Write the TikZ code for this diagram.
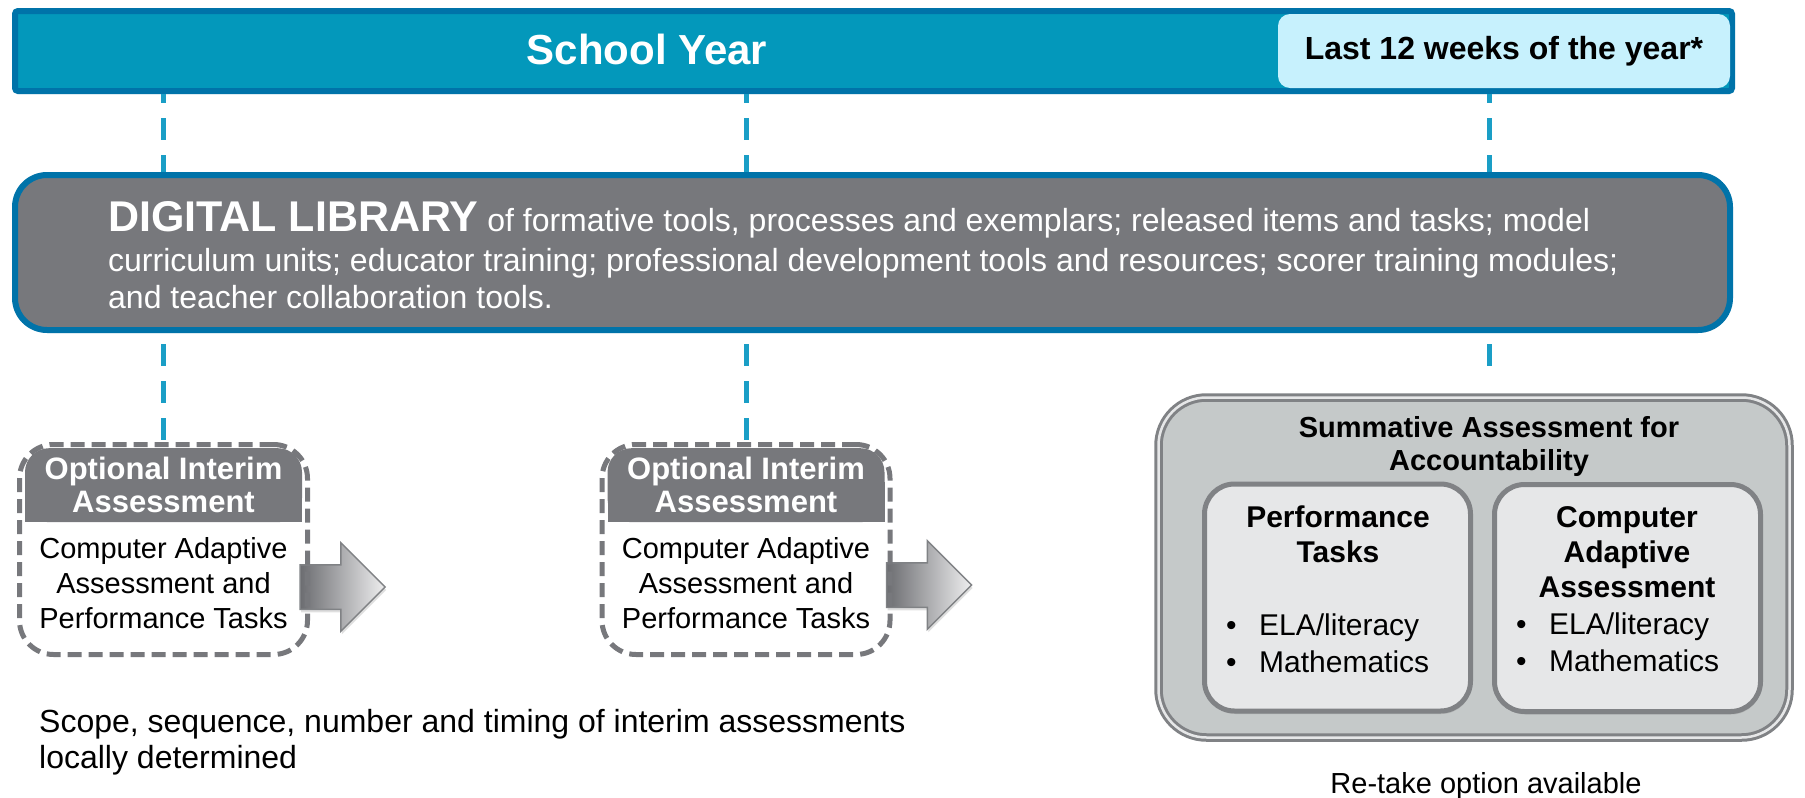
\documentclass[tikz,border=0pt]{standalone}
\usepackage{fontspec}
\setmainfont{Liberation Sans}
\usetikzlibrary{positioning,shapes.arrows,shadows}

\definecolor{barblue}{HTML}{0398BB}
\definecolor{barline}{HTML}{0073A9}
\definecolor{lastcyan}{HTML}{C7F1FD}
\definecolor{libgray}{HTML}{77787C}
\definecolor{tickblue}{HTML}{1A9EC6}
\definecolor{sumfill}{HTML}{C5C9C9}
\definecolor{subfill}{HTML}{E6E7E8}
\definecolor{subline}{HTML}{808285}
\definecolor{arrdark}{HTML}{6C6D71}
\definecolor{arrlight}{HTML}{EEEEEF}

\newcommand{\itembul}{\makebox[33pt][l]{\textbullet}}

\begin{document}
\begin{tikzpicture}[x=1pt, y=-1pt]

\tikzset{every node/.style = {inner sep=0pt},
  softshadow/.style = {drop shadow={opacity=.25, shadow xshift=1pt, shadow yshift=-3pt}},
  yearbar/.style = {draw=barline, fill=barblue, line width=6pt, rounded corners=3pt,
    minimum width=1717pt, minimum height=80pt, softshadow},
  lastbox/.style = {fill=lastcyan, rounded corners=12pt, minimum width=452pt, minimum height=74pt,
    font=\bfseries\fontsize{32}{38}\selectfont},
  libbox/.style = {draw=barline, fill=libgray, line width=6pt, rounded corners=32pt,
    minimum width=1715pt, minimum height=155pt, softshadow},
  libtext/.style = {text=white, align=left, font=\fontsize{32}{37}\selectfont},
  tick/.style = {tickblue, line width=5pt, dash pattern=on 22pt off 15pt},
  optbox/.style = {draw=libgray, line width=5pt, dash pattern=on 14pt off 7pt, rounded corners=34pt,
    minimum width=288pt, minimum height=210pt},
  opthead/.style = {fill=libgray, text=white, rounded corners=24pt, minimum width=277pt,
    minimum height=74pt, align=center, font=\bfseries\fontsize{31}{33}\selectfont},
  optbody/.style = {align=center, font=\fontsize{29}{35}\selectfont},
  blockarrow/.style = {single arrow, single arrow head extend=22pt, inner xsep=0pt, inner ysep=21.5pt,
    minimum height=85pt, minimum width=87pt, draw=subline, line width=1.5pt,
    left color=arrdark, right color=arrlight, softshadow},
  sumbox/.style = {draw=subline, line width=3pt, double=subfill, double distance=2.5pt, fill=sumfill,
    rounded corners=48pt, minimum width=631pt, minimum height=340pt, softshadow},
  subbox/.style = {draw=subline, line width=5pt, fill=subfill, rounded corners=30pt,
    minimum width=266pt, minimum height=227pt, softshadow},
  subhead/.style = {align=center, font=\bfseries\fontsize{30}{35}\selectfont},
  items/.style = {align=left, font=\fontsize{30}{37}\selectfont},
  note/.style = {align=left, font=\fontsize{32}{36}\selectfont}
}

\useasboundingbox (0,0) rectangle (1805,798);

\node[yearbar] (bar) at (873.5,51) {};
\node[lastbox] (last) at (1504,51) {Last 12 weeks of the year*};
\node[text=white, font=\bfseries\fontsize{42}{50}\selectfont] (year) at (647,49) {School Year};

\node[libbox] (lib) at (872.5,252.5) {};
\node[libtext, anchor=north west] (libtxt) at (108,201) {{\bfseries\fontsize{43}{37}\selectfont DIGITAL LIBRARY} of formative tools, processes and exemplars; released items and tasks; model\\[3pt]
curriculum units; educator training; professional development tools and resources; scorer training modules;\\
and teacher collaboration tools.};

\node[blockarrow] (arr1) at (331.5,587) {};
\node[blockarrow] (arr2) at (918,585) {};

\node[optbox] (opt1) at (163.5,549.5) {};
\fill[libgray] ([xshift=8pt,yshift=-40pt]opt1.north west) rectangle ([xshift=-8pt,yshift=-80pt]opt1.north east);
\node[opthead, below=6pt of opt1.north] (opt1h) {Optional Interim\\Assessment};
\node[optbody, below=15pt of opt1h] (opt1b) {Computer Adaptive\\Assessment and\\Performance Tasks};

\node[optbox] (opt2) at (746,549.5) {};
\fill[libgray] ([xshift=8pt,yshift=-40pt]opt2.north west) rectangle ([xshift=-8pt,yshift=-80pt]opt2.north east);
\node[opthead, below=6pt of opt2.north] (opt2h) {Optional Interim\\Assessment};
\node[optbody, below=15pt of opt2h] (opt2b) {Computer Adaptive\\Assessment and\\Performance Tasks};

\node[sumbox] (sum) at (1474,567.5) {};
\node[subhead, font=\bfseries\fontsize{29}{33}\selectfont] (sumtitle) at (1489,446) {Summative Assessment for\\Accountability};
\node[subbox] (ptask) at (1337.5,597.5) {};
\node[subbox] (cat) at (1627.5,598) {};
\node[subhead] (ptaskh) at (1338,534) {Performance\\Tasks};
\node[subhead] (cath) at (1627,552) {Computer\\Adaptive\\Assessment};
\node[items, anchor=west] (ptaskl) at (1226,643) {\itembul ELA/literacy\\\itembul Mathematics};
\node[items, anchor=west] (catl) at (1516,642) {\itembul ELA/literacy\\\itembul Mathematics};

\node[note, anchor=north west] (scope) at (39,709) {Scope, sequence, number and timing of interim assessments\\locally determined};
\node[font=\fontsize{29}{33}\selectfont, anchor=base] (retake) at (1486,793) {Re-take option available};

\coordinate (sumgap) at (1489,381);
\draw[tick, dash phase=13pt] (bar.south -| opt1) -- (lib.north -| opt1);
\draw[tick, dash phase=13pt] (bar.south -| opt2) -- (lib.north -| opt2);
\draw[tick, dash phase=13pt] (bar.south -| sumtitle) -- (lib.north -| sumtitle);
\draw[tick, dash phase=26pt] (lib.south -| opt1) -- (opt1.north);
\draw[tick, dash phase=26pt] (lib.south -| opt2) -- (opt2.north);
\draw[tick, dash phase=26pt] (lib.south -| sumtitle) -- (sumgap);

\end{tikzpicture}
\end{document}
